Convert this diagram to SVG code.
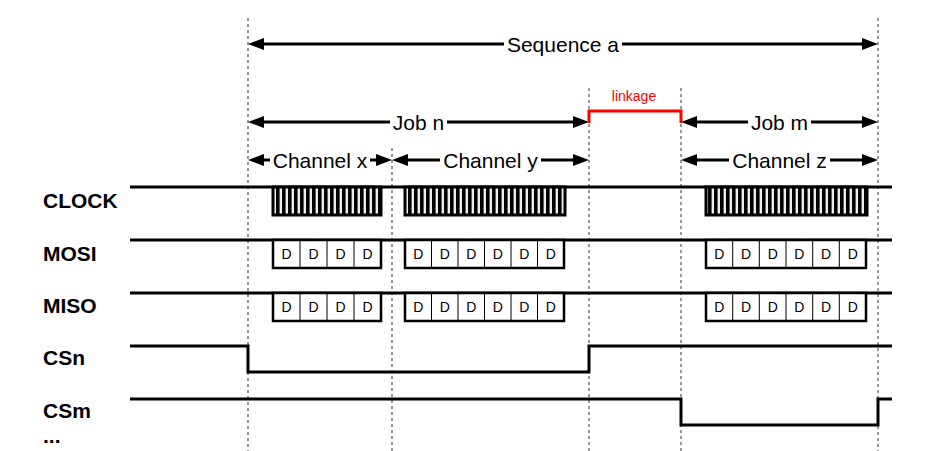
<svg xmlns="http://www.w3.org/2000/svg" width="934" height="451" viewBox="0 0 934 451">
<style>
.lbl{font-family:"Liberation Sans",Arial,sans-serif;font-size:21px;fill:#000;text-anchor:middle;dominant-baseline:central}
.sig{font-family:"Liberation Sans",Arial,sans-serif;font-size:21px;font-weight:bold;fill:#000}
.d{font-family:"Liberation Sans",Arial,sans-serif;font-size:14px;fill:#000;text-anchor:middle}
.wire{fill:none;stroke:#000;stroke-width:3}
.arr{fill:none;stroke:#000;stroke-width:3}
.dash{stroke:#333;stroke-width:1;stroke-dasharray:3 3}
.box{fill:#fff;stroke:#000;stroke-width:2.5}
.cell{stroke:#000;stroke-width:1}
.clk{fill:url(#clkp);stroke:#000;stroke-width:3}
</style>
<defs>
<marker id="ah" markerUnits="userSpaceOnUse" markerWidth="16" markerHeight="12" refX="8" refY="6" orient="auto-start-reverse">
<path d="M0,0 L16,6 L0,12 z" fill="#000"/>
</marker>
<pattern id="clkp" patternUnits="userSpaceOnUse" width="6" height="40">
<rect width="6" height="40" fill="#eee"/>
<rect width="3.6" height="40" fill="#000"/>
</pattern>
</defs>
<rect width="934" height="451" fill="#fff"/>

<g id="guides">
<line class="dash" x1="248" y1="18" x2="248" y2="451"/>
<line class="dash" x1="878" y1="18" x2="878" y2="451"/>
<line class="dash" x1="392" y1="148" x2="392" y2="451"/>
<line class="dash" x1="589" y1="88" x2="589" y2="451"/>
<line class="dash" x1="681" y1="88" x2="681" y2="451"/>
</g>

<g id="connectors">
<line class="arr" x1="256" y1="44" x2="504" y2="44" marker-start="url(#ah)"/>
<line class="arr" x1="622" y1="44" x2="870" y2="44" marker-end="url(#ah)"/>
<line class="arr" x1="256" y1="122" x2="390" y2="122" marker-start="url(#ah)"/>
<line class="arr" x1="447" y1="122" x2="581" y2="122" marker-end="url(#ah)"/>
<line class="arr" x1="689" y1="122" x2="748" y2="122" marker-start="url(#ah)"/>
<line class="arr" x1="811" y1="122" x2="870" y2="122" marker-end="url(#ah)"/>
<line class="arr" x1="256" y1="160" x2="270" y2="160" marker-start="url(#ah)"/>
<line class="arr" x1="370" y1="160" x2="384" y2="160" marker-end="url(#ah)"/>
<line class="arr" x1="400" y1="160" x2="440" y2="160" marker-start="url(#ah)"/>
<line class="arr" x1="541" y1="160" x2="581" y2="160" marker-end="url(#ah)"/>
<line class="arr" x1="689" y1="160" x2="729" y2="160" marker-start="url(#ah)"/>
<line class="arr" x1="830" y1="160" x2="870" y2="160" marker-end="url(#ah)"/>
<path d="M589,123 V111 H681 V123" fill="none" stroke="#f00" stroke-width="3"/>
</g>

<g id="span-labels">
<text class="lbl" x="563" y="44">Sequence a</text>
<text class="lbl" x="418.5" y="122">Job n</text>
<text class="lbl" x="779.5" y="122">Job m</text>
<text class="lbl" x="320" y="160">Channel x</text>
<text class="lbl" x="490.5" y="160">Channel y</text>
<text class="lbl" x="779.5" y="160">Channel z</text>
<text x="634" y="101" font-family="Liberation Sans, Arial, sans-serif" font-size="14" fill="#f00" text-anchor="middle">linkage</text>
</g>

<g id="clock">
<text class="sig" x="43" y="208">CLOCK</text>
<line class="wire" x1="130" y1="187" x2="892" y2="187"/>
<rect class="clk" x="273" y="187" width="108" height="28"/>
<rect class="clk" x="405" y="187" width="160" height="28"/>
<rect class="clk" x="706" y="187" width="161" height="28"/>
</g>

<g id="mosi">
<text class="sig" x="43" y="261">MOSI</text>
<line class="wire" x1="130" y1="240" x2="892" y2="240"/>
<rect class="box" x="273" y="240" width="108" height="28"/>
<line class="cell" x1="300" y1="240" x2="300" y2="268"/>
<line class="cell" x1="327" y1="240" x2="327" y2="268"/>
<line class="cell" x1="354" y1="240" x2="354" y2="268"/>
<text class="d" x="286.5" y="259">D</text><text class="d" x="313.5" y="259">D</text><text class="d" x="340.5" y="259">D</text><text class="d" x="367.5" y="259">D</text>
<rect class="box" x="405" y="240" width="159" height="28"/>
<line class="cell" x1="431.5" y1="240" x2="431.5" y2="268"/>
<line class="cell" x1="458" y1="240" x2="458" y2="268"/>
<line class="cell" x1="484.5" y1="240" x2="484.5" y2="268"/>
<line class="cell" x1="511" y1="240" x2="511" y2="268"/>
<line class="cell" x1="537.5" y1="240" x2="537.5" y2="268"/>
<text class="d" x="418.3" y="259">D</text><text class="d" x="444.8" y="259">D</text><text class="d" x="471.3" y="259">D</text><text class="d" x="497.8" y="259">D</text><text class="d" x="524.3" y="259">D</text><text class="d" x="550.8" y="259">D</text>
<rect class="box" x="706" y="240" width="160" height="28"/>
<line class="cell" x1="732.7" y1="240" x2="732.7" y2="268"/>
<line class="cell" x1="759.3" y1="240" x2="759.3" y2="268"/>
<line class="cell" x1="786" y1="240" x2="786" y2="268"/>
<line class="cell" x1="812.7" y1="240" x2="812.7" y2="268"/>
<line class="cell" x1="839.3" y1="240" x2="839.3" y2="268"/>
<text class="d" x="719.3" y="259">D</text><text class="d" x="746" y="259">D</text><text class="d" x="772.7" y="259">D</text><text class="d" x="799.3" y="259">D</text><text class="d" x="826" y="259">D</text><text class="d" x="852.7" y="259">D</text>
</g>

<g id="miso">
<text class="sig" x="43" y="313">MISO</text>
<line class="wire" x1="130" y1="293" x2="892" y2="293"/>
<rect class="box" x="273" y="293" width="108" height="28"/>
<line class="cell" x1="300" y1="293" x2="300" y2="321"/>
<line class="cell" x1="327" y1="293" x2="327" y2="321"/>
<line class="cell" x1="354" y1="293" x2="354" y2="321"/>
<text class="d" x="286.5" y="312">D</text><text class="d" x="313.5" y="312">D</text><text class="d" x="340.5" y="312">D</text><text class="d" x="367.5" y="312">D</text>
<rect class="box" x="405" y="293" width="159" height="28"/>
<line class="cell" x1="431.5" y1="293" x2="431.5" y2="321"/>
<line class="cell" x1="458" y1="293" x2="458" y2="321"/>
<line class="cell" x1="484.5" y1="293" x2="484.5" y2="321"/>
<line class="cell" x1="511" y1="293" x2="511" y2="321"/>
<line class="cell" x1="537.5" y1="293" x2="537.5" y2="321"/>
<text class="d" x="418.3" y="312">D</text><text class="d" x="444.8" y="312">D</text><text class="d" x="471.3" y="312">D</text><text class="d" x="497.8" y="312">D</text><text class="d" x="524.3" y="312">D</text><text class="d" x="550.8" y="312">D</text>
<rect class="box" x="706" y="293" width="160" height="28"/>
<line class="cell" x1="732.7" y1="293" x2="732.7" y2="321"/>
<line class="cell" x1="759.3" y1="293" x2="759.3" y2="321"/>
<line class="cell" x1="786" y1="293" x2="786" y2="321"/>
<line class="cell" x1="812.7" y1="293" x2="812.7" y2="321"/>
<line class="cell" x1="839.3" y1="293" x2="839.3" y2="321"/>
<text class="d" x="719.3" y="312">D</text><text class="d" x="746" y="312">D</text><text class="d" x="772.7" y="312">D</text><text class="d" x="799.3" y="312">D</text><text class="d" x="826" y="312">D</text><text class="d" x="852.7" y="312">D</text>
</g>

<g id="csn">
<text class="sig" x="43" y="365">CSn</text>
<path class="wire" d="M130,346 H248 V372 H589 V346 H892"/>
</g>

<g id="csm">
<text class="sig" x="43" y="418">CSm</text>
<path class="wire" d="M130,399 H681 V425 H878 V399 H892"/>
</g>

<g id="more">
<text class="sig" x="43" y="443">...</text>
</g>
</svg>
